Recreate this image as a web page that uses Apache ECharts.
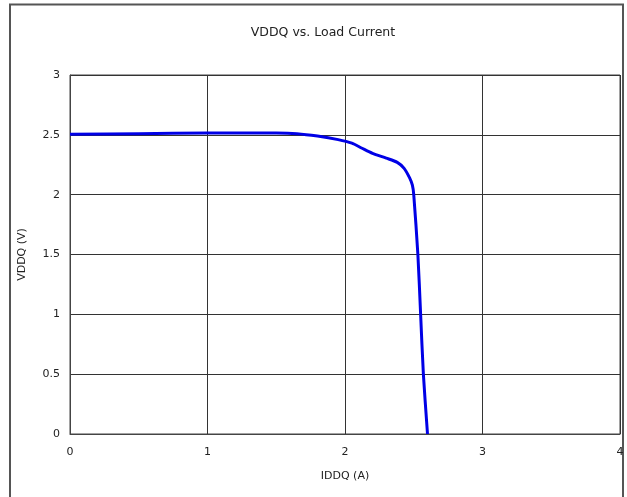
<!DOCTYPE html>
<html><head><meta charset="utf-8">
<script src="https://cdn.jsdelivr.net/npm/echarts@6/dist/echarts.min.js"></script>
<style>html,body{margin:0;padding:0;background:#fff}#c{width:627px;height:497px}</style>
</head><body><div id="c"></div>
<script>
var titleText = 'VDDQ vs. Load Current';
var xName = 'IDDQ (A)';
var yName = 'VDDQ (V)';
var iddq = [0, 0.5, 1, 1.5, 1.65, 1.8, 1.95, 2.05, 2.12, 2.2, 2.3, 2.38, 2.43, 2.47, 2.49, 2.5, 2.53, 2.55, 2.57, 2.6];
var vddq = [2.505, 2.51, 2.515, 2.515, 2.51, 2.49, 2.46, 2.43, 2.39, 2.345, 2.305, 2.27, 2.22, 2.14, 2.08, 2.0, 1.5, 1.0, 0.5, 0];
var data = iddq.map(function (x, i) { return [x, vddq[i]]; });
var font = 'Tahoma, "DejaVu Sans", sans-serif';
var chart = echarts.init(document.getElementById('c'));
chart.setOption({
  animation: false,
  title: { text: titleText, left: 318, top: 21, textAlign: 'center',
    textStyle: { fontSize: 12.5, fontWeight: 'normal', color: '#222', fontFamily: font } },
  graphic: [{ type: 'rect', shape: { x: 10, y: 4.5, width: 613, height: 500 },
    style: { fill: 'none', stroke: '#555', lineWidth: 2 }, silent: true }],
  grid: { left: 70, right: 7, top: 75, bottom: 63, show: true, borderColor: '#444', borderWidth: 1 },
  xAxis: { type: 'value', min: 0, max: 4, interval: 1, name: xName, nameLocation: 'middle', nameGap: 37,
    nameTextStyle: { fontSize: 11, color: '#222', fontFamily: font },
    axisLine: { show: true, lineStyle: { color: '#444' } }, axisTick: { show: false },
    axisLabel: { fontSize: 11, color: '#222', fontFamily: font, margin: 13 },
    splitLine: { show: true, lineStyle: { color: '#333', width: 1 } } },
  yAxis: { type: 'value', min: 0, max: 3, interval: 0.5, name: yName, nameLocation: 'middle', nameGap: 42,
    nameTextStyle: { fontSize: 11, color: '#222', fontFamily: font },
    axisLine: { show: true, lineStyle: { color: '#444' } }, axisTick: { show: false },
    axisLabel: { fontSize: 11, color: '#222', fontFamily: font, margin: 10 },
    splitLine: { show: true, lineStyle: { color: '#333', width: 1 } } },
  series: [{ type: 'line', data: data, smooth: 0.25, symbol: 'none',
    lineStyle: { color: '#0000e6', width: 3 } }]
});
</script></body></html>
